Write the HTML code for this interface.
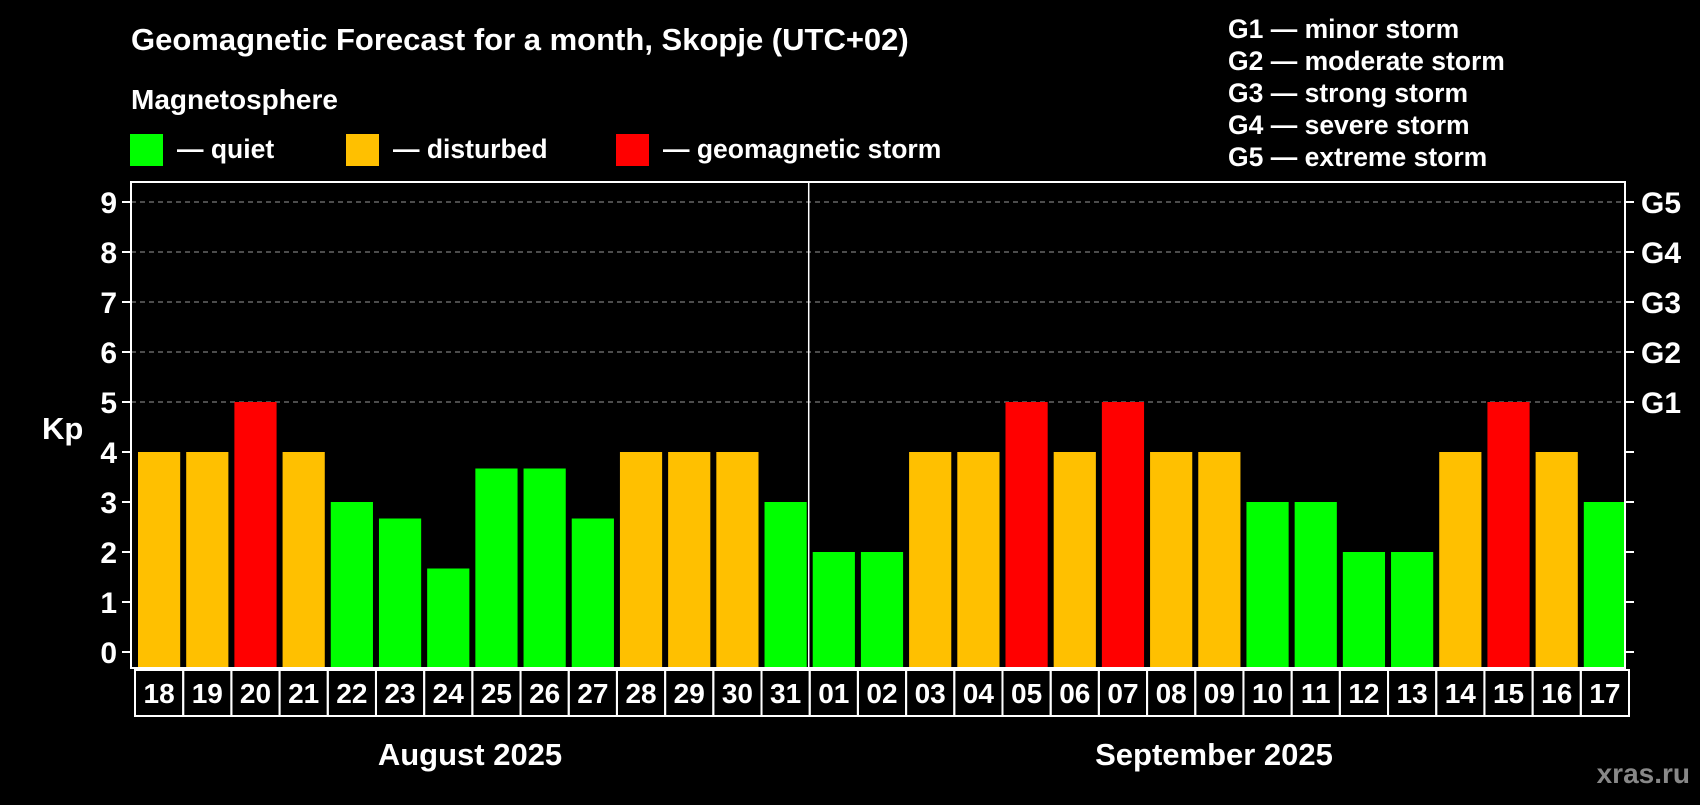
<!DOCTYPE html>
<html><head><meta charset="utf-8"><style>
body{margin:0;background:#000;width:1700px;height:800px;overflow:hidden;font-family:"Liberation Sans",Arial,sans-serif;font-weight:bold;color:#fff}
svg text{font-family:"Liberation Sans",Arial,sans-serif;font-weight:bold;fill:#fff}
</style></head><body>
<svg id="c" width="1700" height="800">
<text x="131" y="50" font-size="31">Geomagnetic Forecast for a month, Skopje (UTC+02)</text>
<text x="131" y="109" font-size="28">Magnetosphere</text>
<rect x="130" y="134" width="33" height="32" fill="#00ff00"/>
<text x="177" y="158" font-size="26.5">— quiet</text>
<rect x="346" y="134" width="33" height="32" fill="#ffc000"/>
<text x="393" y="158" font-size="26.5">— disturbed</text>
<rect x="616" y="134" width="33" height="32" fill="#ff0000"/>
<text x="663" y="158" font-size="26.5">— geomagnetic storm</text>
<g>
<text x="1228" y="38" font-size="26.5">G1 — minor storm</text>
<text x="1228" y="70" font-size="26.5">G2 — moderate storm</text>
<text x="1228" y="102" font-size="26.5">G3 — strong storm</text>
<text x="1228" y="134" font-size="26.5">G4 — severe storm</text>
<text x="1228" y="166" font-size="26.5">G5 — extreme storm</text>
</g>
<text x="42" y="439" font-size="31">Kp</text>
<text x="470" y="765" font-size="31" text-anchor="middle">August 2025</text>
<text x="1214" y="765" font-size="31" text-anchor="middle">September 2025</text>
<text x="1690" y="783" font-size="28" text-anchor="end" style="fill:#888">xras.ru</text>
<g id="plot"></g>
</svg>
<script>
const days=["18","19","20","21","22","23","24","25","26","27","28","29","30","31","01","02","03","04","05","06","07","08","09","10","11","12","13","14","15","16","17"];
const kp=[4,4,5,4,3,2.67,1.67,3.67,3.67,2.67,4,4,4,3,2,2,4,4,5,4,5,4,4,3,3,2,2,4,5,4,3];
const yTicks=[0,1,2,3,4,5,6,7,8,9];
const gLabels=["G1","G2","G3","G4","G5"];
const L=131,R=1625,T=182,B=668,Y0=652,Y9=202;
const NS="http://www.w3.org/2000/svg";
const g=document.getElementById('plot');
const y=v=>Y0-(Y0-Y9)*v/9;
const pitch=(R-L)/days.length;
const x=i=>L+i*pitch;
function mk(t,a){const e=document.createElementNS(NS,t);for(const k in a)e.setAttribute(k,a[k]);g.appendChild(e);return e;}
yTicks.forEach(v=>{
 if(v>=5){const l=mk('line',{x1:L,x2:R,y1:y(v),y2:y(v),stroke:'#999','stroke-width':1,'stroke-dasharray':'5,4'});
 
 }
 const t1=mk('line',{x1:L-9,x2:L,y1:y(v),y2:y(v),stroke:'#fff','stroke-width':2});
 
 
 const t2=mk('line',{x1:R,x2:R+9,y1:y(v),y2:y(v),stroke:'#fff','stroke-width':2});
 
 
 const tx=mk('text',{x:L-14,y:y(v)+11,'font-size':30,'text-anchor':'end'});tx.textContent=v;
 
 
});
gLabels.forEach((s,i)=>{const t=mk('text',{x:R+16,y:y(5+i)+11,'font-size':30});t.textContent=s;
 
 });
kp.forEach((v,i)=>{
 const c=v>=5?'#ff0000':v>=4?'#ffc000':'#00ff00';
 const r=mk('rect',{x:x(i)+7,y:y(v),width:pitch-6,height:B-y(v),fill:c});
 
 
 const b=mk('rect',{x:x(i)+4,y:670,width:pitch,height:46,fill:'none',stroke:'#fff','stroke-width':2});
 
 
 const t=mk('text',{x:x(i)+4+pitch/2,y:703,'font-size':28,'text-anchor':'middle'});t.textContent=days[i];
 
 
});
const dv=mk('line',{x1:x(14)+3,x2:x(14)+3,y1:T,y2:B,stroke:'#fff','stroke-width':1.5});


const fr=mk('rect',{x:L,y:T,width:R-L,height:B-T,fill:'none',stroke:'#fff','stroke-width':2});


</script>
</body></html>
